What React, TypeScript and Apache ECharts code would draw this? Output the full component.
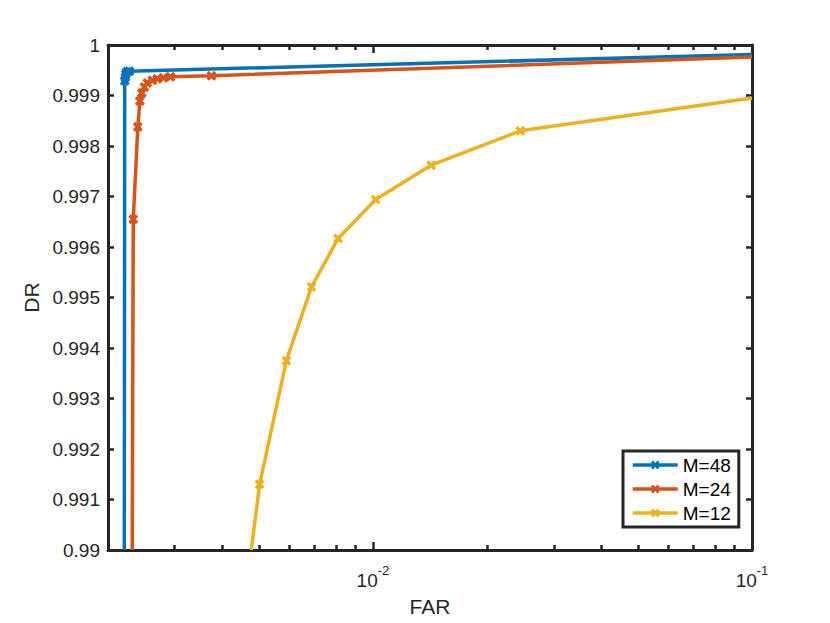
import React, { useEffect, useRef } from "react";
import * as echarts from "echarts";

// Data
const SERIES_NAMES = ["M=48", "M=24", "M=12"];
const FAR_48 = [0.002208, 0.002214, 0.002222, 0.002229, 0.002243, 0.002277, 0.1];
const DR_48 = [0.99, 0.99929, 0.99936, 0.99942, 0.99947, 0.99948, 0.99981];
const FAR_24 = [0.002317, 0.002332, 0.002397, 0.002427, 0.002456, 0.002494, 0.00254, 0.002618, 0.002699, 0.0028, 0.002922, 0.00375, 0.1];
const DR_24 = [0.99, 0.99655, 0.99838, 0.99889, 0.99905, 0.99917, 0.99925, 0.9993, 0.99933, 0.99935, 0.99937, 0.99939, 0.99976];
const FAR_12 = [0.004775, 0.005024, 0.00591, 0.006886, 0.008093, 0.010166, 0.014237, 0.024477, 0.1];
const DR_12 = [0.99, 0.9913, 0.99375, 0.99521, 0.99617, 0.99694, 0.99762, 0.9983, 0.99895];
const X_MAJOR_TICKS = [0.01, 0.1];
const X_MINOR_TICKS = [0.003, 0.004, 0.005, 0.006, 0.007, 0.008, 0.009, 0.02, 0.03, 0.04, 0.05, 0.06, 0.07, 0.08, 0.09];
const X_MIN = 0.002;
const X_MAX = 0.1;
const Y_MIN = 0.99;
const Y_MAX = 1;
const Y_STEP = 0.001;

const COLORS = ["#0072BD", "#D95319", "#EDB120"];
const AXIS_COLOR = "#262626";
const FONT = "'Liberation Sans', Arial, Helvetica, sans-serif";
const X_MARK = "path://M0,2.4 L2.4,0 L5,2.6 L7.6,0 L10,2.4 L7.4,5 L10,7.6 L7.6,10 L5,7.4 L2.4,10 L0,7.6 L2.6,5 Z";

function buildData(xs: number[], ys: number[]) {
  // first and last points are where the curves leave the frame: no marker
  return xs.map((x, i) => {
    const edge = i === 0 || i === xs.length - 1;
    return edge ? { value: [x, ys[i]], symbol: "none" } : { value: [x, ys[i]] };
  });
}

function supLabel(v: number) {
  const e = Math.round(Math.log10(v));
  return "{b|10}{s|" + (e < 0 ? "-" : "") + Math.abs(e) + "}";
}

export default function App() {
  const ref = useRef<HTMLDivElement>(null);
  useEffect(() => {
    if (!ref.current) return;
    const chart = echarts.init(ref.current, null, { renderer: "svg" });
    const baseX = {
      type: "log",
      logBase: 10,
      min: X_MIN,
      max: X_MAX,
      splitLine: { show: false },
      minorTick: { show: false },
    };
    const tickStyle = { color: AXIS_COLOR, width: 2.5 };
    const lineStyleAxis = { color: AXIS_COLOR, width: 3 };
    const option: any = {
      animation: false,
      backgroundColor: "#ffffff",
      grid: { left: 108, right: 78, top: 45, bottom: 73 },
      xAxis: [
        {
          ...baseX,
          position: "bottom",
          name: "FAR",
          nameLocation: "middle",
          nameGap: 46,
          nameTextStyle: { fontSize: 21, color: AXIS_COLOR, fontFamily: FONT },
          axisLine: { show: true, lineStyle: lineStyleAxis },
          axisTick: { show: true, inside: true, length: 8, lineStyle: tickStyle, customValues: X_MAJOR_TICKS },
          axisLabel: {
            show: true,
            customValues: X_MAJOR_TICKS,
            margin: 14,
            formatter: (v: number) => supLabel(v),
            rich: {
              b: { fontSize: 19, fontFamily: FONT, color: AXIS_COLOR, lineHeight: 26, verticalAlign: "bottom" },
              s: { fontSize: 13, fontFamily: FONT, color: AXIS_COLOR, lineHeight: 26, verticalAlign: "top" },
            },
          },
        },
        {
          ...baseX,
          position: "bottom",
          axisLine: { show: false },
          axisTick: { show: true, inside: true, length: 5, lineStyle: tickStyle, customValues: X_MINOR_TICKS },
          axisLabel: { show: false },
        },
        {
          ...baseX,
          position: "top",
          axisLine: { show: true, lineStyle: lineStyleAxis },
          axisTick: { show: true, inside: true, length: 8, lineStyle: tickStyle, customValues: X_MAJOR_TICKS },
          axisLabel: { show: false },
        },
        {
          ...baseX,
          position: "top",
          axisLine: { show: false },
          axisTick: { show: true, inside: true, length: 5, lineStyle: tickStyle, customValues: X_MINOR_TICKS },
          axisLabel: { show: false },
        },
      ],
      yAxis: [
        {
          type: "value",
          position: "left",
          min: Y_MIN,
          max: Y_MAX,
          interval: Y_STEP,
          name: "DR",
          nameLocation: "middle",
          nameGap: 66,
          nameTextStyle: { fontSize: 21, color: AXIS_COLOR, fontFamily: FONT },
          splitLine: { show: false },
          axisLine: { show: true, lineStyle: lineStyleAxis },
          axisTick: { show: true, inside: true, length: 6, lineStyle: tickStyle },
          axisLabel: {
            margin: 8,
            fontSize: 19,
            fontFamily: FONT,
            color: AXIS_COLOR,
            formatter: (v: number) => String(+v.toFixed(3)),
          },
        },
        {
          type: "value",
          position: "right",
          min: Y_MIN,
          max: Y_MAX,
          interval: Y_STEP,
          splitLine: { show: false },
          axisLine: { show: true, lineStyle: lineStyleAxis },
          axisTick: { show: true, inside: true, length: 6, lineStyle: tickStyle },
          axisLabel: { show: false },
        },
      ],
      legend: {
        orient: "vertical",
        left: 623,
        top: 451,
        backgroundColor: "#ffffff",
        borderColor: AXIS_COLOR,
        borderWidth: 3,
        borderRadius: 0,
        padding: [4, 8, 4, 8],
        itemGap: 4,
        itemWidth: 45,
        itemHeight: 11,
        lineStyle: { width: 3.5 },
        textStyle: { fontSize: 19, fontFamily: FONT, color: "#000000", lineHeight: 20 },
        data: SERIES_NAMES,
      },
      series: [
        [FAR_48, DR_48],
        [FAR_24, DR_24],
        [FAR_12, DR_12],
      ].map(([xs, ys], i) => ({
        name: SERIES_NAMES[i],
        type: "line",
        xAxisIndex: 0,
        yAxisIndex: 0,
        data: buildData(xs, ys),
        clip: true,
        symbol: X_MARK,
        symbolSize: 10,
        showAllSymbol: true,
        color: COLORS[i],
        lineStyle: { color: COLORS[i], width: 3.5 },
        itemStyle: { color: COLORS[i] },
        z: 2 + i,
      })),
    };
    chart.setOption(option);
    return () => chart.dispose();
  }, []);
  return <div ref={ref} style={{ position: "fixed", left: 0, top: 0, width: 830, height: 623 }} />;
}
